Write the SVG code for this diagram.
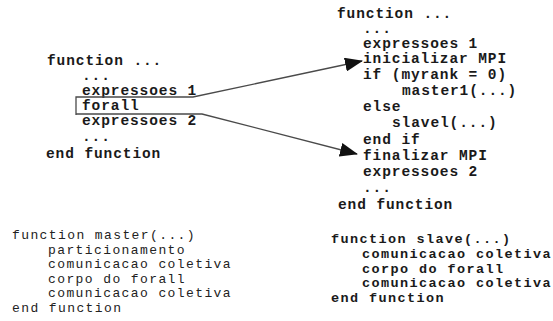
<svg xmlns="http://www.w3.org/2000/svg" width="553" height="321" viewBox="0 0 553 321">
<defs>
<style>
.t{font-family:"Liberation Mono","Courier New",monospace;font-size:14.5px;letter-spacing:0.9px;font-weight:bold;fill:#1a1a1a}
.s{font-family:"Liberation Mono","Courier New",monospace;font-size:13px;letter-spacing:1.4px;fill:#222}
.sb{font-family:"Liberation Mono","Courier New",monospace;font-size:13.5px;letter-spacing:1.4px;font-weight:bold;fill:#1a1a1a}
.ln{stroke:#4a4a4a;stroke-width:1.3;fill:none}
</style>
<marker id="ah" viewBox="0 0 18 14" refX="17" refY="7" markerWidth="18" markerHeight="14" markerUnits="userSpaceOnUse" orient="auto">
<path d="M0,0 L18,7 L0,14 z" fill="#111"/>
</marker>
</defs>
<rect width="553" height="321" fill="#fff"/>
<g id="main-original">
<text class="t" x="47" y="65">function ...</text>
<text class="t" x="82" y="79.5">...</text>
<text class="t" x="82" y="94.5">expressoes 1</text>
<text class="t" x="82" y="110">forall</text>
<text class="t" x="82" y="125">expressoes 2</text>
<text class="t" x="82" y="141">...</text>
<text class="t" x="46" y="158">end function</text>
</g>
<g id="main-transformed">
<text class="t" x="337" y="17.5">function ...</text>
<text class="t" x="363" y="32.5">...</text>
<text class="t" x="363" y="47.5">expressoes 1</text>
<text class="t" x="363" y="63">inicializar MPI</text>
<text class="t" x="363" y="79">if (myrank = 0)</text>
<text class="t" x="402" y="95">master1(...)</text>
<text class="t" x="363" y="111">else</text>
<text class="t" x="392" y="127">slavel(...)</text>
<text class="t" x="363" y="144">end if</text>
<text class="t" x="363" y="160">finalizar MPI</text>
<text class="t" x="363" y="176">expressoes 2</text>
<text class="t" x="363" y="192">...</text>
<text class="t" x="338" y="209">end function</text>
</g>
<g id="master">
<text class="s" x="12" y="239">function master(...)</text>
<text class="s" x="48" y="253.5">particionamento</text>
<text class="s" x="48" y="268">comunicacao coletiva</text>
<text class="s" x="48" y="282.5">corpo do forall</text>
<text class="s" x="48" y="297">comunicacao coletiva</text>
<text class="s" x="12" y="311.5">end function</text>
</g>
<g id="slave">
<text class="sb" x="331" y="243">function slave(...)</text>
<text class="sb" x="362" y="258">comunicacao coletiva</text>
<text class="sb" x="362" y="273">corpo do forall</text>
<text class="sb" x="362" y="287">comunicacao coletiva</text>
<text class="sb" x="331" y="302">end function</text>
</g>
<g id="connectors">
<path class="ln" d="M76,115 L76,97 L193,97 L362,61" marker-end="url(#ah)"/>
<path class="ln" d="M76,114 L202,114 L357,154" marker-end="url(#ah)"/>
</g>
</svg>
